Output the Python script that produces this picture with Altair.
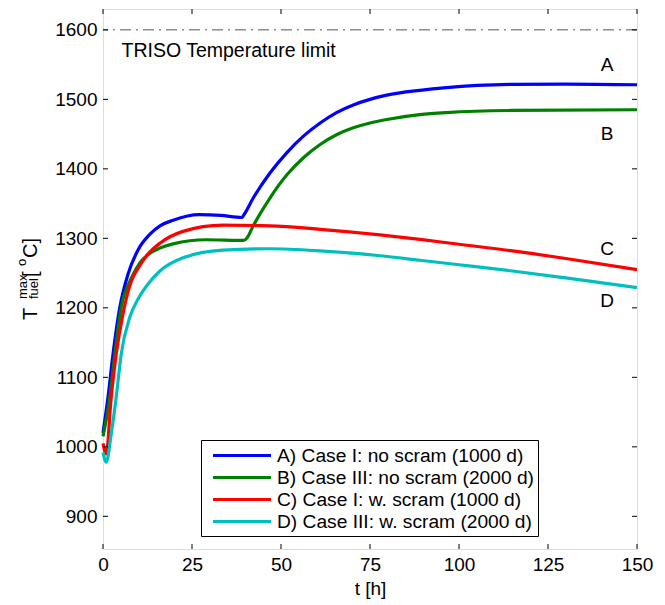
import altair as alt
import pandas as pd

# ---------------- data ----------------
series = [
    "A) Case I: no scram (1000 d)",
    "B) Case III: no scram (2000 d)",
    "C) Case I: w. scram (1000 d)",
    "D) Case III: w. scram (2000 d)",
]
colors = ["#0000ff", "#008000", "#ff0000", "#00bfbf"]

t_a = [0, 0.7, 1.4, 2.8, 4.7, 7, 9.8, 13.2, 16, 19.7, 27, 33, 39, 39.6, 42.2, 46.9, 51.6, 56.3, 61, 65.6, 70.3, 75, 79.7, 89, 96.5, 115, 130, 150]
T_a = [1020, 1045, 1071, 1133, 1200, 1248, 1283, 1306, 1318, 1326, 1334, 1333, 1330, 1334, 1358, 1394, 1423, 1447, 1466, 1481, 1492, 1500, 1506, 1513, 1517, 1521.5, 1522, 1521]

t_b = [0, 1.9, 3.3, 5.1, 8, 10.4, 13, 16, 19.7, 29, 39.5, 40.5, 42.2, 46.9, 51.6, 56.3, 61, 65.6, 70.3, 75, 79.7, 89, 96.5, 115, 150]
T_b = [1015, 1071, 1133, 1200, 1243, 1265, 1278, 1286, 1292, 1298, 1297, 1301, 1318, 1358, 1391, 1416, 1435, 1449, 1459, 1466, 1471, 1478, 1481, 1484, 1485]

t_c = [0, 0.9, 2.3, 3.7, 5.6, 8, 10, 12.6, 16, 22.5, 33.7, 46.9, 61, 77.8, 89, 100, 115, 130, 150]
T_c = [1005, 990, 1071, 1133, 1191, 1239, 1258, 1277, 1293, 1310, 1319, 1318, 1313, 1305, 1298.5, 1291.5, 1282, 1271, 1255]

t_d = [0, 0.9, 2.3, 3.7, 5.1, 7.5, 10, 12.6, 16, 22.5, 33.7, 46.9, 61, 77.8, 89, 100, 115, 130, 150]
T_d = [992, 978, 1018, 1071, 1133, 1186, 1214, 1234, 1253, 1272, 1283, 1285, 1282, 1275, 1268.5, 1262, 1253, 1243, 1229]

curve_letters = ["A", "B", "C", "D"]
letter_t = [141.6, 141.6, 141.6, 141.6]
letter_T = [1549, 1450, 1285, 1210]

limit_T = [1600]
limit_text = ["TRISO Temperature limit"]
limit_text_t = [5.2]
limit_text_T = [1561]

x_ticks = [0, 25, 50, 75, 100, 125, 150]
y_ticks = [900, 1000, 1100, 1200, 1300, 1400, 1500, 1600]
x_domain = [0, 150]
y_domain = [853, 1630]

# ---------------- tables ----------------
rows = []
for name, ts, Ts in zip(series, [t_a, t_b, t_c, t_d], [T_a, T_b, T_c, T_d]):
    for t, T in zip(ts, Ts):
        rows.append({"case": name, "t": t, "T": T})
df = pd.DataFrame(rows)
df_letters = pd.DataFrame({"lab": curve_letters, "t": letter_t, "T": letter_T})
df_limit = pd.DataFrame({"T": limit_T})
df_limit_text = pd.DataFrame({"lab": limit_text, "t": limit_text_t, "T": limit_text_T})
df_xt = pd.DataFrame({"t": x_ticks})
df_yt = pd.DataFrame({"T": y_ticks})

W, H = 534, 540
FONT = "Liberation Sans"
FS = 19
FS_TXT = 19.5
FS_LEG = 19.2

xs = alt.Scale(domain=x_domain, nice=False, zero=False)
ys = alt.Scale(domain=y_domain, nice=False, zero=False)

x_axis = alt.Axis(values=x_ticks, ticks=False, domain=False, grid=False, format="d",
                  labelFontSize=FS, labelFont=FONT, labelColor="black",
                  labelPadding=6, title="t [h]", titleFont=FONT, titleFontSize=FS,
                  titleFontWeight="normal", titleColor="black", titlePadding=5,
                  labelFlush=False)
y_axis = alt.Axis(values=y_ticks, ticks=False, domain=False, grid=False, format="d",
                  labelFontSize=FS, labelFont=FONT, labelColor="black",
                  labelPadding=6, title=None, labelFlush=False)

# legend line sample: custom path, scaled by sqrt(size)/2 = 9.5 px
lines = alt.Chart(df).mark_line(strokeWidth=3.2, interpolate="monotone").encode(
    x=alt.X("t:Q", scale=xs, axis=x_axis),
    y=alt.Y("T:Q", scale=ys, axis=y_axis),
    color=alt.Color("case:N", scale=alt.Scale(domain=series, range=colors),
                    legend=alt.Legend(
                        orient="none", legendX=98, legendY=431, title=None,
                        fillColor="white", strokeColor="black", padding=4,
                        symbolType="M-0.368,0H5.737", symbolStrokeWidth=3.2, symbolSize=361,
                        labelFontSize=FS_LEG, labelFont=FONT, labelColor="black",
                        labelLimit=0, labelOffset=49, rowPadding=0, cornerRadius=0)),
    order=alt.Order("case:N"),
)

limit = alt.Chart(df_limit).mark_rule(color="#555555", strokeWidth=1, strokeDash=[11, 5, 2, 5]).encode(
    y=alt.Y("T:Q", scale=ys)
)

limit_label = alt.Chart(df_limit_text).mark_text(
    align="left", baseline="alphabetic", font=FONT, fontSize=FS_TXT, color="black"
).encode(x=alt.X("t:Q", scale=xs), y=alt.Y("T:Q", scale=ys), text="lab:N")

letters = alt.Chart(df_letters).mark_text(
    align="center", baseline="middle", font=FONT, fontSize=FS, color="black"
).encode(x=alt.X("t:Q", scale=xs), y=alt.Y("T:Q", scale=ys), text="lab:N")

# inward ticks on all four sides
tick_style = dict(color="black", strokeWidth=1)
xt_bottom = alt.Chart(df_xt).mark_rule(**tick_style).encode(
    x=alt.X("t:Q", scale=xs), y=alt.value(H), y2=alt.value(H - 5))
xt_top = alt.Chart(df_xt).mark_rule(**tick_style).encode(
    x=alt.X("t:Q", scale=xs), y=alt.value(0), y2=alt.value(5))
yt_left = alt.Chart(df_yt).mark_rule(**tick_style).encode(
    y=alt.Y("T:Q", scale=ys), x=alt.value(0), x2=alt.value(5))
yt_right = alt.Chart(df_yt).mark_rule(**tick_style).encode(
    y=alt.Y("T:Q", scale=ys), x=alt.value(W), x2=alt.value(W - 5))

# y-axis title with super/subscripts: T^max_fuel [^oC]
ytitle_parts = ["T", "max", "fuel", "[", "o", "C]"]
ytitle_x = [-66, -76, -65, -66, -77, -66]
ytitle_y = [311, 290, 290, 268, 257, 249]
ytitle_fs = [20, 13, 13, 20, 13, 20]
ytitle_layers = []
for txt, px, py, fs in zip(ytitle_parts, ytitle_x, ytitle_y, ytitle_fs):
    ytitle_layers.append(
        alt.Chart(pd.DataFrame({"lab": [txt]})).mark_text(
            align="left", baseline="alphabetic", angle=270, font=FONT,
            fontSize=fs, color="black"
        ).encode(x=alt.value(px), y=alt.value(py), text="lab:N")
    )

chart = alt.layer(
    limit, lines, limit_label, letters, xt_bottom, xt_top, yt_left, yt_right, *ytitle_layers
).properties(
    width=W, height=H,
    autosize=alt.AutoSizeParams(type="none"),
    padding={"left": 95, "top": 1, "right": 20, "bottom": 55},
).configure_view(
    stroke="black", strokeWidth=1
).configure(background="white")

chart.save("out.html", embed_options={"renderer": "svg", "actions": False})
